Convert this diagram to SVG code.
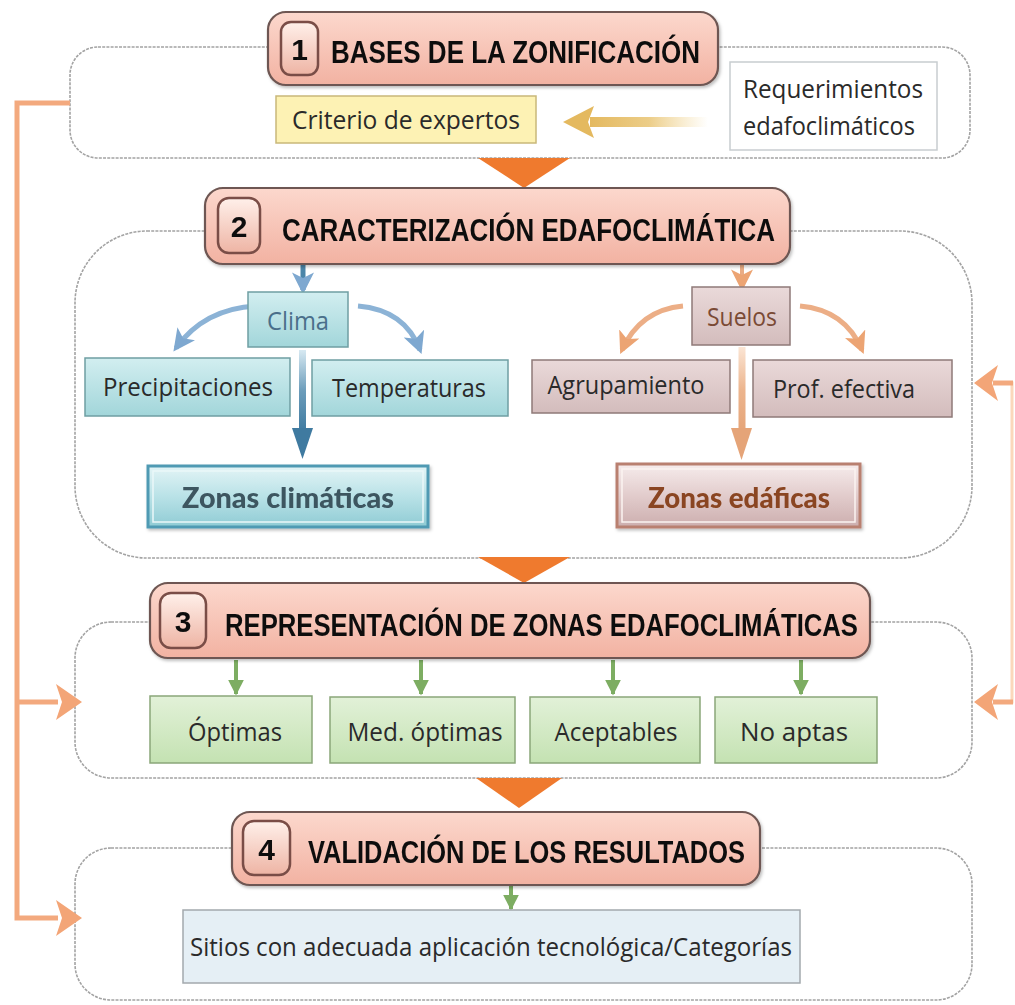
<svg xmlns="http://www.w3.org/2000/svg" width="1015" height="1005" viewBox="0 0 1015 1005">
<defs>
<style>
.sec{fill:#fff;stroke:#a3a3a3;stroke-width:1.6;stroke-dasharray:3 1.2}
.hdr{fill:url(#gHdr);stroke:#6e5752;stroke-width:2.2}
.num{fill:url(#gNum);stroke:#7a4e46;stroke-width:2.5}
.htxt{font-family:"Liberation Sans",Arial,sans-serif;font-weight:bold;font-size:32px;fill:#111}
.ntxt{font-family:"Liberation Sans",Arial,sans-serif;font-weight:bold;font-size:30px;fill:#111;text-anchor:middle}
.btxt{font-family:"Open Sans","Liberation Sans",sans-serif;font-size:25px;fill:#2a2a2a}
.ctr{text-anchor:middle}
.teal{fill:url(#gTeal);stroke:#6f9ea3;stroke-width:1.5}
.rose{fill:url(#gRose);stroke:#8f7a78;stroke-width:1.5}
.green{fill:url(#gGreen);stroke:#8aa679;stroke-width:1.5}
.ztxt{font-family:"Lato","Liberation Sans",sans-serif;font-weight:900;font-size:29px;text-anchor:middle}
.garr{stroke:#7dad62;stroke-width:4;fill:none}
.tri{fill:#ef7a2e}
.oline{stroke:#f3a97e;stroke-width:5;fill:none}
.ohead{fill:#f3a577}
</style>
<linearGradient id="gHdr" x1="0" y1="0" x2="0" y2="1"><stop offset="0" stop-color="#fcd8cd"/><stop offset="1" stop-color="#f2b2a2"/></linearGradient>
<linearGradient id="gNum" x1="0" y1="0" x2="0" y2="1"><stop offset="0" stop-color="#fff0ea"/><stop offset="1" stop-color="#eeb4a4"/></linearGradient>
<linearGradient id="gTeal" x1="0" y1="0" x2="0" y2="1"><stop offset="0" stop-color="#d2eef0"/><stop offset="1" stop-color="#a2d6da"/></linearGradient>
<linearGradient id="gRose" x1="0" y1="0" x2="0" y2="1"><stop offset="0" stop-color="#ead9d9"/><stop offset="1" stop-color="#d3bcbc"/></linearGradient>
<linearGradient id="gGreen" x1="0" y1="0" x2="0" y2="1"><stop offset="0" stop-color="#e2f1d8"/><stop offset="1" stop-color="#c4e2b2"/></linearGradient>
<linearGradient id="gZC" x1="0" y1="0" x2="0" y2="1"><stop offset="0" stop-color="#e3f4f6"/><stop offset="0.5" stop-color="#b9e2e7"/><stop offset="1" stop-color="#8fcbd4"/></linearGradient>
<linearGradient id="gZE" x1="0" y1="0" x2="0" y2="1"><stop offset="0" stop-color="#f6ecec"/><stop offset="0.5" stop-color="#e2cccc"/><stop offset="1" stop-color="#ccaeae"/></linearGradient>
<linearGradient id="gYel" x1="1" y1="0" x2="0" y2="0"><stop offset="0" stop-color="#f3d99a" stop-opacity="0"/><stop offset="0.5" stop-color="#eccd88"/><stop offset="1" stop-color="#e4b95f"/></linearGradient>
<linearGradient id="gBlueV" x1="0" y1="0" x2="0" y2="1"><stop offset="0" stop-color="#d7e9f2"/><stop offset="0.5" stop-color="#6b9cba"/><stop offset="1" stop-color="#3f7aa0"/></linearGradient>
<linearGradient id="gOrV" x1="0" y1="0" x2="0" y2="1"><stop offset="0" stop-color="#fbe5d4"/><stop offset="0.5" stop-color="#ecb58e"/><stop offset="1" stop-color="#e5a478"/></linearGradient>
<marker id="mBlue" viewBox="0 0 10 10" refX="8" refY="5" markerWidth="22" markerHeight="22" markerUnits="userSpaceOnUse" orient="auto"><path d="M0,0 L10,5 L0,10 L2.5,5 Z" fill="#7ea8d0"/></marker>
<marker id="mOr" viewBox="0 0 10 10" refX="8" refY="5" markerWidth="22" markerHeight="22" markerUnits="userSpaceOnUse" orient="auto"><path d="M0,0 L10,5 L0,10 L2.5,5 Z" fill="#eca473"/></marker>
<marker id="mGreen" viewBox="0 0 10 10" refX="9" refY="5" markerWidth="16" markerHeight="16" markerUnits="userSpaceOnUse" orient="auto"><path d="M0,0 L10,5 L0,10 Z" fill="#7dad62"/></marker>
<filter id="sh" x="-5%" y="-10%" width="110%" height="130%"><feDropShadow dx="1.5" dy="2" stdDeviation="1.5" flood-color="#000" flood-opacity="0.25"/></filter>
</defs>

<rect width="1015" height="1005" fill="#ffffff"/>

<!-- Section containers -->
<g id="section1-frame"><rect class="sec" x="70" y="47" width="900" height="111" rx="28"/></g>
<g id="section2-frame"><rect class="sec" x="75" y="231" width="897" height="327" rx="72"/></g>
<g id="section3-frame"><rect class="sec" x="75" y="622" width="897" height="156" rx="36"/></g>
<g id="section4-frame"><rect class="sec" x="75" y="848" width="897" height="152" rx="36"/></g>

<!-- Connectors -->
<g id="connectors">
  <polygon class="tri" points="478,158 570,158 524,188"/>
  <polygon class="tri" points="478,557 570,557 524,583"/>
  <polygon class="tri" points="476,778 562,778 519,808"/>
  <rect x="590" y="117" width="118" height="10" fill="url(#gYel)"/>
  <polygon points="563,122 594,106 588,122 594,138" fill="#e4b95f"/>
  <line x1="303" y1="264" x2="303" y2="290" stroke="#4b85a8" stroke-width="5" marker-end="url(#mBlue)"/>
  <path d="M258,306 Q205,308 176,348" stroke="#8cb3d6" stroke-width="5" fill="none" marker-end="url(#mBlue)"/>
  <path d="M358,306 Q405,310 420,350" stroke="#8cb3d6" stroke-width="5" fill="none" marker-end="url(#mBlue)"/>
  <rect x="299" y="350" width="7" height="82" fill="url(#gBlueV)"/>
  <polygon points="292,428 313,428 302.5,459" fill="#3f7aa0"/>
  <line x1="742" y1="264" x2="742" y2="287" stroke="#e9ac84" stroke-width="4" marker-end="url(#mOr)"/>
  <path d="M683,306 Q640,310 622,350" stroke="#ecae86" stroke-width="5" fill="none" marker-end="url(#mOr)"/>
  <path d="M800,306 Q845,310 862,350" stroke="#ecae86" stroke-width="5" fill="none" marker-end="url(#mOr)"/>
  <rect x="738.5" y="347" width="7" height="85" fill="url(#gOrV)"/>
  <polygon points="731,428 752,428 741.5,460" fill="#e5a478"/>
  <line class="garr" x1="236" y1="660" x2="236" y2="694" marker-end="url(#mGreen)"/>
  <line class="garr" x1="421" y1="660" x2="421" y2="694" marker-end="url(#mGreen)"/>
  <line class="garr" x1="613" y1="660" x2="613" y2="694" marker-end="url(#mGreen)"/>
  <line class="garr" x1="801" y1="660" x2="801" y2="694" marker-end="url(#mGreen)"/>
  <line class="garr" x1="511" y1="885" x2="511" y2="909" marker-end="url(#mGreen)"/>
  <polyline class="oline" points="70,103 17,103 17,918 58,918"/>
  <line class="oline" x1="17" y1="702" x2="58" y2="702"/>
  <polygon class="ohead" points="82,702 56,684 62,702 56,720"/>
  <polygon class="ohead" points="82,918 56,900 62,918 56,936"/>
  <polyline points="995,383 1012,383 1012,702 995,702" stroke="#fbd8bb" stroke-width="3" fill="none"/>
  <line x1="993" y1="383" x2="1013" y2="383" stroke="#f3a97e" stroke-width="5"/>
  <line x1="993" y1="702" x2="1013" y2="702" stroke="#f3a97e" stroke-width="5"/>
  <polygon class="ohead" points="974,383 998,365 992,383 998,401"/>
  <polygon class="ohead" points="974,702 998,684 992,702 998,720"/>
</g>

<!-- Section 1 -->
<g id="header1" filter="url(#sh)">
  <rect class="hdr" x="268" y="12" width="450" height="73" rx="18"/>
  <rect class="num" x="281" y="22" width="37" height="53" rx="10"/>
  <text class="ntxt" x="299.5" y="60">1</text>
  <text class="htxt" x="331" y="63" textLength="369" lengthAdjust="spacingAndGlyphs">BASES DE LA ZONIFICACIÓN</text>
</g>
<g id="criterio">
  <rect x="276" y="96" width="260" height="47" fill="#fdf2b4" stroke="#c9b87a" stroke-width="1.5"/>
  <text class="btxt ctr" x="406" y="129" textLength="228" lengthAdjust="spacingAndGlyphs">Criterio de expertos</text>
</g>
<g id="requerimientos">
  <rect x="730" y="62" width="207" height="88" fill="#ffffff" stroke="#c8cdd0" stroke-width="1.5"/>
  <text class="btxt" x="743" y="98" textLength="180" lengthAdjust="spacingAndGlyphs">Requerimientos</text>
  <text class="btxt" x="743" y="135" textLength="172" lengthAdjust="spacingAndGlyphs">edafoclimáticos</text>
</g>

<!-- Section 2 -->
<g id="header2" filter="url(#sh)">
  <rect class="hdr" x="205" y="188" width="585" height="76" rx="18"/>
  <rect class="num" x="218" y="198" width="42" height="55" rx="11"/>
  <text class="ntxt" x="239" y="237">2</text>
  <text class="htxt" x="282" y="241" textLength="493" lengthAdjust="spacingAndGlyphs">CARACTERIZACIÓN EDAFOCLIMÁTICA</text>
</g>
<g id="clima"><rect class="teal" x="248" y="292" width="100" height="55"/><text class="btxt ctr" x="298" y="330" style="fill:#4a6f8a" textLength="62" lengthAdjust="spacingAndGlyphs">Clima</text></g>
<g id="precipitaciones"><rect class="teal" x="85" y="358" width="205" height="58"/><text class="btxt ctr" x="188" y="396" textLength="170" lengthAdjust="spacingAndGlyphs">Precipitaciones</text></g>
<g id="temperaturas"><rect class="teal" x="312" y="360" width="196" height="56"/><text class="btxt ctr" x="409" y="397" textLength="154" lengthAdjust="spacingAndGlyphs">Temperaturas</text></g>
<g id="zonas-climaticas" filter="url(#sh)">
  <rect x="148" y="466" width="280" height="61" fill="url(#gZC)" stroke="#4f9ab3" stroke-width="3"/>
  <rect x="153" y="471" width="270" height="51" fill="none" stroke="#eaf7f9" stroke-width="1.5"/>
  <text class="ztxt" x="288" y="508" fill="#3d5661" textLength="212" lengthAdjust="spacingAndGlyphs">Zonas climáticas</text>
</g>
<g id="suelos"><rect class="rose" x="692" y="287" width="98" height="58"/><text class="btxt ctr" x="742" y="326" style="fill:#7a4a35" textLength="70" lengthAdjust="spacingAndGlyphs">Suelos</text></g>
<g id="agrupamiento"><rect class="rose" x="532" y="360" width="198" height="53"/><text class="btxt ctr" x="626" y="394" textLength="157" lengthAdjust="spacingAndGlyphs">Agrupamiento</text></g>
<g id="prof-efectiva"><rect class="rose" x="753" y="360" width="199" height="57"/><text class="btxt ctr" x="844" y="398" textLength="142" lengthAdjust="spacingAndGlyphs">Prof. efectiva</text></g>
<g id="zonas-edaficas" filter="url(#sh)">
  <rect x="617" y="464" width="243" height="63" fill="url(#gZE)" stroke="#b98070" stroke-width="3"/>
  <rect x="622" y="469" width="233" height="53" fill="none" stroke="#fbf3f1" stroke-width="1.5"/>
  <text class="ztxt" x="739" y="508" fill="#8a4520" textLength="182" lengthAdjust="spacingAndGlyphs">Zonas edáficas</text>
</g>

<!-- Section 3 -->
<g id="header3" filter="url(#sh)">
  <rect class="hdr" x="150" y="583" width="720" height="75" rx="18"/>
  <rect class="num" x="160" y="593" width="46" height="55" rx="11"/>
  <text class="ntxt" x="183" y="632">3</text>
  <text class="htxt" x="225" y="636" textLength="633" lengthAdjust="spacingAndGlyphs">REPRESENTACIÓN DE ZONAS EDAFOCLIMÁTICAS</text>
</g>
<g id="optimas"><rect class="green" x="150" y="696" width="162" height="67"/><text class="btxt ctr" x="235" y="741" textLength="94" lengthAdjust="spacingAndGlyphs">Óptimas</text></g>
<g id="med-optimas"><rect class="green" x="330" y="697" width="185" height="66"/><text class="btxt ctr" x="425" y="741" textLength="155" lengthAdjust="spacingAndGlyphs">Med. óptimas</text></g>
<g id="aceptables"><rect class="green" x="530" y="697" width="170" height="66"/><text class="btxt ctr" x="616" y="741" textLength="123" lengthAdjust="spacingAndGlyphs">Aceptables</text></g>
<g id="no-aptas"><rect class="green" x="715" y="697" width="162" height="66"/><text class="btxt ctr" x="794" y="741" textLength="108" lengthAdjust="spacingAndGlyphs">No aptas</text></g>

<!-- Section 4 -->
<g id="header4" filter="url(#sh)">
  <rect class="hdr" x="232" y="812" width="528" height="73" rx="18"/>
  <rect class="num" x="243" y="821" width="47" height="54" rx="11"/>
  <text class="ntxt" x="266.5" y="860">4</text>
  <text class="htxt" x="308" y="863" textLength="437" lengthAdjust="spacingAndGlyphs">VALIDACIÓN DE LOS RESULTADOS</text>
</g>
<g id="sitios">
  <rect x="183" y="910" width="617" height="73" fill="#e5eff5" stroke="#a3a9ad" stroke-width="1.5"/>
  <text class="btxt ctr" x="491" y="956" textLength="602" lengthAdjust="spacingAndGlyphs">Sitios con adecuada aplicación tecnológica/Categorías</text>
</g>
</svg>
